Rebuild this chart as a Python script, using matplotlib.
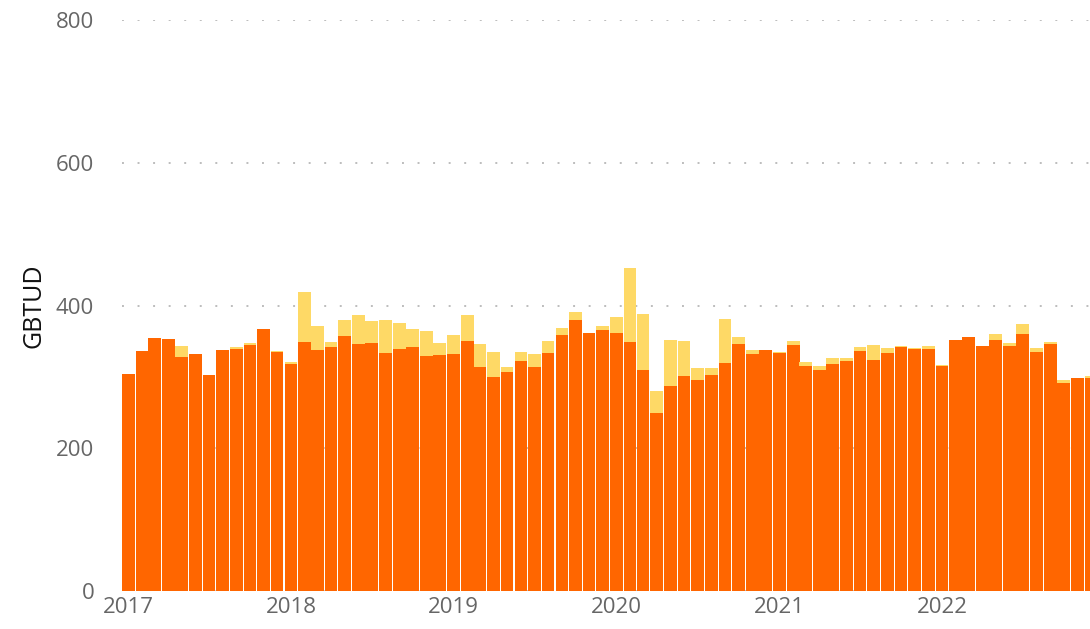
import matplotlib
matplotlib.use("Agg")
import matplotlib.pyplot as plt
import matplotlib.dates as mdates
import numpy as np
import pandas as pd

# ---- data (GBTUD) ----
months = pd.date_range("2017-01-01", "2022-12-01", freq="MS")

orange = [
    304, 336, 354.5, 353, 328, 332, 302.6, 337.6, 339, 344.6, 367, 335,      # 2017
    318, 349, 337.6, 342, 357, 346, 347.5, 333, 339, 342, 329, 330.6,        # 2018
    332, 350, 314, 300, 307, 322, 314, 333, 358.7, 380, 361.5, 365.6,        # 2019
    361.5, 349, 309.6, 249, 287, 301, 295.6, 302.6, 319, 346, 332, 337.6,    # 2020
    333, 344.6, 315, 309.6, 318, 322, 336, 323.6, 333, 342, 339, 339,        # 2021
    315, 351.6, 356, 343, 351.6, 343, 360, 335, 346, 291, 298.4, 298.4,      # 2022
]
total = [
    304, 336, 354.5, 353, 343, 332, 302.6, 337.6, 342, 347.5, 367, 336,      # 2017
    321, 419, 371, 349, 380, 387, 378, 380, 375.5, 367, 364, 347.5,          # 2018
    358.7, 387, 346, 335, 314, 335, 332, 350, 368.5, 391, 361.5, 371,        # 2019
    384, 452.5, 388, 280, 351.6, 350, 312, 312, 381, 356, 337.6, 337.6,      # 2020
    335, 350, 321, 315, 326.5, 326.5, 342, 344.6, 340.4, 343, 340.4, 343,    # 2021
    316.6, 351.6, 356, 343, 360, 347.5, 374, 340.4, 349, 296, 298.4, 301,    # 2022
]
yellow = [t - o for t, o in zip(total, orange)]

y_ticks = [0, 200, 400, 600, 800]
y_label = "GBTUD"

ORANGE = "#FF6600"
YELLOW = "#FED966"

fig = plt.figure(figsize=(10.9, 6.29), dpi=100)
ax = fig.add_axes([122 / 1090, 1 - 591 / 629, 1 - 122 / 1090, (591 - 20) / 629])

x = mdates.date2num(months.to_pydatetime())
width = 28.6
ax.bar(x, orange, width=width, color=ORANGE, align="center", linewidth=0, zorder=2)
ax.bar(x, yellow, width=width, bottom=orange, color=YELLOW, align="center",
       linewidth=0, zorder=2)

ax.set_ylim(0, 800)
ax.set_yticks(y_ticks)
ax.set_xlim(mdates.date2num(pd.Timestamp("2016-12-18")),
            mdates.date2num(pd.Timestamp("2022-11-29")))
ax.xaxis.set_major_locator(mdates.YearLocator())
ax.xaxis.set_major_formatter(mdates.DateFormatter("%Y"))

ax.yaxis.grid(True, color="#bdbdbd", linestyle=(0, (1, 7)), linewidth=1.4, zorder=0)
ax.set_axisbelow(True)
for s in ax.spines.values():
    s.set_visible(False)

fam = ["Open Sans", "DejaVu Sans"]
ax.tick_params(axis="both", length=0, colors="#666666", labelsize=16)
ax.tick_params(axis="y", pad=20)
ax.tick_params(axis="x", pad=4)
for lab in ax.get_xticklabels() + ax.get_yticklabels():
    lab.set_fontfamily(fam)

ax.set_ylabel(y_label, fontsize=18, color="#111111", family=fam,
              fontweight="medium", labelpad=7)

fig.savefig("out.png", dpi=100)
